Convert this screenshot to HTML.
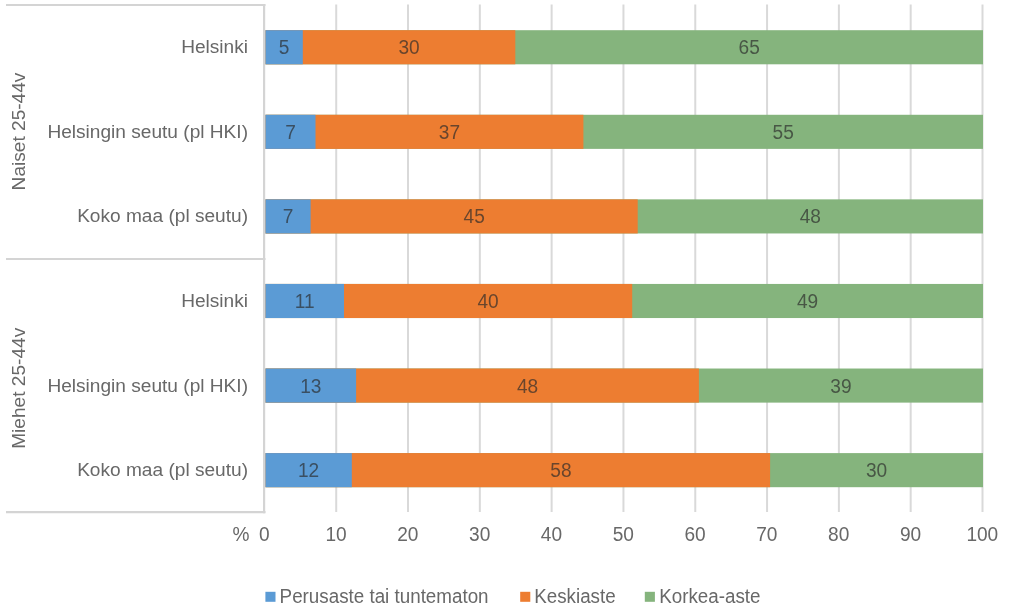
<!DOCTYPE html>
<html><head><meta charset="utf-8"><title>chart</title>
<style>
html,body{margin:0;padding:0;background:#fff;}
body{width:1024px;height:611px;overflow:hidden;}
svg{display:block;will-change:transform;}
text{font-family:"Liberation Sans",sans-serif;font-size:19.1px;}
text.lg{font-size:18.8px;}
</style></head><body>
<svg width="1024" height="611" viewBox="0 0 1024 611">
<rect x="0" y="0" width="1024" height="611" fill="#ffffff"/>
<line x1="336.21" y1="4.5" x2="336.21" y2="512" stroke="#D9D9D9" stroke-width="2"/>
<line x1="408.02" y1="4.5" x2="408.02" y2="512" stroke="#D9D9D9" stroke-width="2"/>
<line x1="479.83" y1="4.5" x2="479.83" y2="512" stroke="#D9D9D9" stroke-width="2"/>
<line x1="551.64" y1="4.5" x2="551.64" y2="512" stroke="#D9D9D9" stroke-width="2"/>
<line x1="623.45" y1="4.5" x2="623.45" y2="512" stroke="#D9D9D9" stroke-width="2"/>
<line x1="695.26" y1="4.5" x2="695.26" y2="512" stroke="#D9D9D9" stroke-width="2"/>
<line x1="767.07" y1="4.5" x2="767.07" y2="512" stroke="#D9D9D9" stroke-width="2"/>
<line x1="838.88" y1="4.5" x2="838.88" y2="512" stroke="#D9D9D9" stroke-width="2"/>
<line x1="910.69" y1="4.5" x2="910.69" y2="512" stroke="#D9D9D9" stroke-width="2"/>
<line x1="982.50" y1="4.5" x2="982.50" y2="512" stroke="#D9D9D9" stroke-width="2"/>
<rect x="265.40" y="30.20" width="717.60" height="34.1" fill="#85B47D"/>
<rect x="265.40" y="30.20" width="249.90" height="34.1" fill="#ED7D31"/>
<rect x="265.40" y="30.20" width="37.40" height="34.1" fill="#5B9BD5"/>
<rect x="265.40" y="114.78" width="717.60" height="34.1" fill="#85B47D"/>
<rect x="265.40" y="114.78" width="318.00" height="34.1" fill="#ED7D31"/>
<rect x="265.40" y="114.78" width="50.10" height="34.1" fill="#5B9BD5"/>
<rect x="265.40" y="199.36" width="717.60" height="34.1" fill="#85B47D"/>
<rect x="265.40" y="199.36" width="372.30" height="34.1" fill="#ED7D31"/>
<rect x="265.40" y="199.36" width="45.20" height="34.1" fill="#5B9BD5"/>
<rect x="265.40" y="283.94" width="717.60" height="34.1" fill="#85B47D"/>
<rect x="265.40" y="283.94" width="366.80" height="34.1" fill="#ED7D31"/>
<rect x="265.40" y="283.94" width="78.60" height="34.1" fill="#5B9BD5"/>
<rect x="265.40" y="368.52" width="717.60" height="34.1" fill="#85B47D"/>
<rect x="265.40" y="368.52" width="433.50" height="34.1" fill="#ED7D31"/>
<rect x="265.40" y="368.52" width="90.70" height="34.1" fill="#5B9BD5"/>
<rect x="265.40" y="453.10" width="717.60" height="34.1" fill="#85B47D"/>
<rect x="265.40" y="453.10" width="504.70" height="34.1" fill="#ED7D31"/>
<rect x="265.40" y="453.10" width="86.40" height="34.1" fill="#5B9BD5"/>
<line x1="6" y1="5" x2="265.5" y2="5" stroke="#D4D4D4" stroke-width="2.2"/>
<line x1="6" y1="259" x2="265.5" y2="259" stroke="#D4D4D4" stroke-width="2.2"/>
<line x1="6" y1="512.2" x2="265.5" y2="512.2" stroke="#D4D4D4" stroke-width="2.2"/>
<line x1="264.09999999999997" y1="4" x2="264.09999999999997" y2="513.3" stroke="#D4D4D4" stroke-width="2.2"/>
<text transform="translate(248.00,53.30) scale(1,1.0)" text-anchor="end" fill="#686868">Helsinki</text>
<text transform="translate(284.10,54.20) scale(1,1.08)" text-anchor="middle" fill="#2b2b2b" fill-opacity="0.68">5</text>
<text transform="translate(409.05,54.20) scale(1,1.08)" text-anchor="middle" fill="#2b2b2b" fill-opacity="0.68">30</text>
<text transform="translate(749.15,54.20) scale(1,1.08)" text-anchor="middle" fill="#2b2b2b" fill-opacity="0.68">65</text>
<text transform="translate(248.00,137.88) scale(1,1.0)" text-anchor="end" fill="#686868">Helsingin seutu (pl HKI)</text>
<text transform="translate(290.45,138.78) scale(1,1.08)" text-anchor="middle" fill="#2b2b2b" fill-opacity="0.68">7</text>
<text transform="translate(449.45,138.78) scale(1,1.08)" text-anchor="middle" fill="#2b2b2b" fill-opacity="0.68">37</text>
<text transform="translate(783.20,138.78) scale(1,1.08)" text-anchor="middle" fill="#2b2b2b" fill-opacity="0.68">55</text>
<text transform="translate(248.00,222.46) scale(1,1.0)" text-anchor="end" fill="#686868">Koko maa (pl seutu)</text>
<text transform="translate(288.00,223.36) scale(1,1.08)" text-anchor="middle" fill="#2b2b2b" fill-opacity="0.68">7</text>
<text transform="translate(474.15,223.36) scale(1,1.08)" text-anchor="middle" fill="#2b2b2b" fill-opacity="0.68">45</text>
<text transform="translate(810.35,223.36) scale(1,1.08)" text-anchor="middle" fill="#2b2b2b" fill-opacity="0.68">48</text>
<text transform="translate(248.00,307.04) scale(1,1.0)" text-anchor="end" fill="#686868">Helsinki</text>
<text transform="translate(304.70,307.94) scale(1,1.08)" text-anchor="middle" fill="#2b2b2b" fill-opacity="0.68">11</text>
<text transform="translate(488.10,307.94) scale(1,1.08)" text-anchor="middle" fill="#2b2b2b" fill-opacity="0.68">40</text>
<text transform="translate(807.60,307.94) scale(1,1.08)" text-anchor="middle" fill="#2b2b2b" fill-opacity="0.68">49</text>
<text transform="translate(248.00,391.62) scale(1,1.0)" text-anchor="end" fill="#686868">Helsingin seutu (pl HKI)</text>
<text transform="translate(310.75,392.52) scale(1,1.08)" text-anchor="middle" fill="#2b2b2b" fill-opacity="0.68">13</text>
<text transform="translate(527.50,392.52) scale(1,1.08)" text-anchor="middle" fill="#2b2b2b" fill-opacity="0.68">48</text>
<text transform="translate(840.95,392.52) scale(1,1.08)" text-anchor="middle" fill="#2b2b2b" fill-opacity="0.68">39</text>
<text transform="translate(248.00,476.20) scale(1,1.0)" text-anchor="end" fill="#686868">Koko maa (pl seutu)</text>
<text transform="translate(308.60,477.10) scale(1,1.08)" text-anchor="middle" fill="#2b2b2b" fill-opacity="0.68">12</text>
<text transform="translate(560.95,477.10) scale(1,1.08)" text-anchor="middle" fill="#2b2b2b" fill-opacity="0.68">58</text>
<text transform="translate(876.55,477.10) scale(1,1.08)" text-anchor="middle" fill="#2b2b2b" fill-opacity="0.68">30</text>
<text transform="translate(25.3,131.5) rotate(-90) scale(1,1.0)" text-anchor="middle" fill="#686868">Naiset 25-44v</text>
<text transform="translate(25.3,388.3) rotate(-90) scale(1,1.0)" text-anchor="middle" fill="#686868">Miehet 25-44v</text>
<text transform="translate(249.50,541.00) scale(1,1.08)" text-anchor="end" fill="#686868">%</text>
<text transform="translate(264.20,541.00) scale(1,1.08)" text-anchor="middle" fill="#686868">0</text>
<text transform="translate(336.01,541.00) scale(1,1.08)" text-anchor="middle" fill="#686868">10</text>
<text transform="translate(407.82,541.00) scale(1,1.08)" text-anchor="middle" fill="#686868">20</text>
<text transform="translate(479.63,541.00) scale(1,1.08)" text-anchor="middle" fill="#686868">30</text>
<text transform="translate(551.44,541.00) scale(1,1.08)" text-anchor="middle" fill="#686868">40</text>
<text transform="translate(623.25,541.00) scale(1,1.08)" text-anchor="middle" fill="#686868">50</text>
<text transform="translate(695.06,541.00) scale(1,1.08)" text-anchor="middle" fill="#686868">60</text>
<text transform="translate(766.87,541.00) scale(1,1.08)" text-anchor="middle" fill="#686868">70</text>
<text transform="translate(838.68,541.00) scale(1,1.08)" text-anchor="middle" fill="#686868">80</text>
<text transform="translate(910.49,541.00) scale(1,1.08)" text-anchor="middle" fill="#686868">90</text>
<text transform="translate(982.30,541.00) scale(1,1.08)" text-anchor="middle" fill="#686868">100</text>
<rect x="265.4" y="591.8" width="10.1" height="10" fill="#5B9BD5"/>
<text class="lg" transform="translate(279.60,602.70) scale(1,1.03)" text-anchor="start" fill="#686868">Perusaste tai tuntematon</text>
<rect x="520.2" y="591.8" width="10.1" height="10" fill="#ED7D31"/>
<text class="lg" transform="translate(534.20,602.70) scale(1,1.03)" text-anchor="start" fill="#686868">Keskiaste</text>
<rect x="644.8" y="591.8" width="10.1" height="10" fill="#85B47D"/>
<text class="lg" transform="translate(659.20,602.70) scale(1,1.03)" text-anchor="start" fill="#686868">Korkea-aste</text>
</svg>
</body></html>
